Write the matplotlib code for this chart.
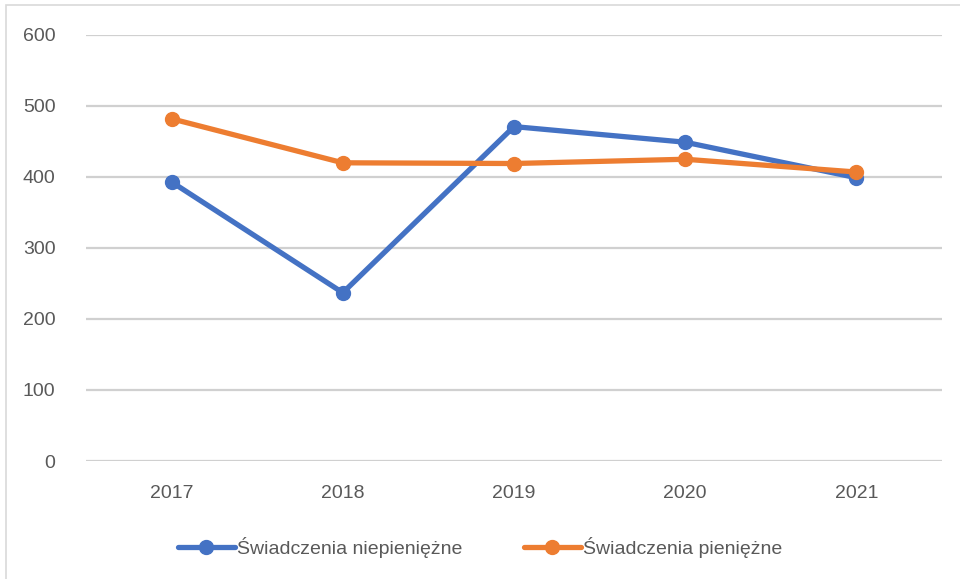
import matplotlib.pyplot as plt
from matplotlib.patches import Rectangle

# dane
lata = ['2017', '2018', '2019', '2020', '2021']
niepieniezne = [393, 237, 471, 449, 399]
pieniezne = [482, 420, 419, 425, 407]
yticks = [0, 100, 200, 300, 400, 500, 600]

plt.rcParams['font.family'] = ['Liberation Sans', 'DejaVu Sans']

fig = plt.figure(figsize=(9.6, 5.79), dpi=100)
ax = fig.add_axes([86/960, 1 - 461/579, (942 - 86)/960, (461 - 35)/579])

# ramka wykresu
fig.patches.append(Rectangle((6/960, -0.1), 1.2, 1 - 5/579 + 0.1, transform=fig.transFigure,
                             fill=False, edgecolor='#D9D9D9', linewidth=1.2))

x = range(len(lata))
ax.plot(x, niepieniezne, color='#4472C4', lw=3.8, marker='o', ms=10,
        label='Świadczenia niepieniężne', solid_capstyle='round', zorder=3)
ax.plot(x, pieniezne, color='#ED7D31', lw=3.8, marker='o', ms=10,
        label='Świadczenia pieniężne', solid_capstyle='round', zorder=4)

ax.set_xlim(-0.5, len(lata) - 0.5)
ax.set_ylim(0, 600)
ax.set_xticks(list(x))
ax.set_xticklabels(lata)
ax.set_yticks(yticks)
ax.grid(axis='y', color='#D0D0D0', lw=1.6)
ax.set_axisbelow(True)
for s in ax.spines.values():
    s.set_visible(False)
ax.tick_params(length=0, labelsize=14, colors='#595959')
ax.tick_params(axis='y', pad=22)
ax.tick_params(axis='x', pad=17)

fig.legend(loc='center', bbox_to_anchor=(0.5, 1 - 547/579), ncol=2, frameon=False,
           fontsize=14, labelcolor='#595959', handlelength=2.9, handletextpad=0.1,
           columnspacing=3.2)

fig.savefig('out.png', dpi=100)
